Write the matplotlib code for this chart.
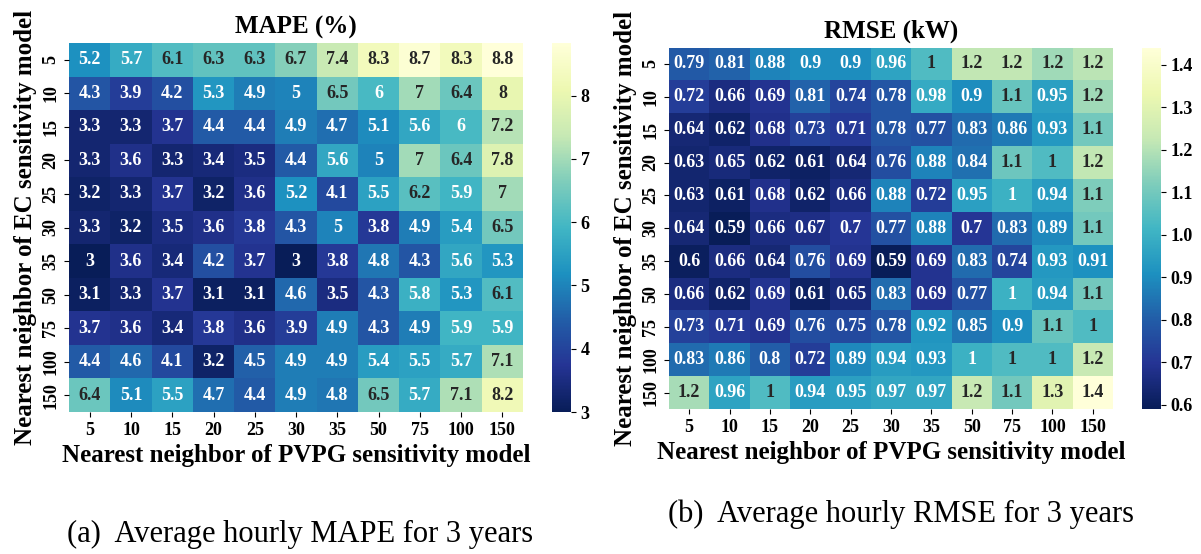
import numpy as np
import matplotlib
matplotlib.use("Agg")
import matplotlib.pyplot as plt
import seaborn as sns

# neighbour counts used for both sensitivity models
pvpg_neighbors = [5, 10, 15, 20, 25, 30, 35, 50, 75, 100, 150]
ec_neighbors = [5, 10, 15, 20, 25, 30, 35, 50, 75, 100, 150]

# average hourly MAPE (%), rows = EC neighbours, cols = PVPG neighbours
mape = [
    [5.2, 5.7, 6.1, 6.3, 6.3, 6.7, 7.4, 8.3, 8.7, 8.3, 8.83],
    [4.3, 3.9, 4.2, 5.3, 4.9, 5.0, 6.5, 6.0, 7.0, 6.4, 8.0],
    [3.3, 3.3, 3.7, 4.4, 4.4, 4.9, 4.7, 5.1, 5.6, 6.0, 7.2],
    [3.3, 3.6, 3.3, 3.4, 3.5, 4.4, 5.6, 5.0, 7.0, 6.4, 7.8],
    [3.2, 3.3, 3.7, 3.2, 3.6, 5.2, 4.1, 5.5, 6.2, 5.9, 7.0],
    [3.3, 3.2, 3.5, 3.6, 3.8, 4.3, 5.0, 3.8, 4.9, 5.4, 6.5],
    [3.0, 3.6, 3.4, 4.2, 3.7, 3.0, 3.8, 4.8, 4.3, 5.6, 5.3],
    [3.1, 3.3, 3.7, 3.1, 3.1, 4.6, 3.5, 4.3, 5.8, 5.3, 6.1],
    [3.7, 3.6, 3.4, 3.8, 3.6, 3.9, 4.9, 4.3, 4.9, 5.9, 5.9],
    [4.4, 4.6, 4.1, 3.2, 4.5, 4.9, 4.9, 5.4, 5.5, 5.7, 7.1],
    [6.4, 5.1, 5.5, 4.7, 4.4, 4.9, 4.8, 6.5, 5.7, 7.1, 8.2],
]

# average hourly RMSE (kW)
rmse = [
    [0.79, 0.81, 0.88, 0.90, 0.90, 0.96, 1.04, 1.22, 1.22, 1.17, 1.21],
    [0.72, 0.66, 0.69, 0.81, 0.74, 0.78, 0.98, 0.90, 1.08, 0.95, 1.17],
    [0.64, 0.62, 0.68, 0.73, 0.71, 0.78, 0.77, 0.83, 0.86, 0.93, 1.10],
    [0.63, 0.65, 0.62, 0.61, 0.64, 0.76, 0.88, 0.84, 1.09, 1.04, 1.22],
    [0.63, 0.61, 0.68, 0.62, 0.66, 0.88, 0.72, 0.95, 1.00, 0.94, 1.12],
    [0.64, 0.59, 0.66, 0.67, 0.70, 0.77, 0.88, 0.70, 0.83, 0.89, 1.10],
    [0.60, 0.66, 0.64, 0.76, 0.69, 0.59, 0.69, 0.83, 0.74, 0.93, 0.91],
    [0.66, 0.62, 0.69, 0.61, 0.65, 0.83, 0.69, 0.77, 1.00, 0.94, 1.10],
    [0.73, 0.71, 0.69, 0.76, 0.75, 0.78, 0.92, 0.85, 0.90, 1.08, 1.04],
    [0.83, 0.86, 0.80, 0.72, 0.89, 0.94, 0.93, 1.00, 1.04, 1.04, 1.23],
    [1.18, 0.96, 1.04, 0.94, 0.95, 0.97, 0.97, 1.23, 1.10, 1.30, 1.44],
]

plt.rcParams["font.family"] = ["Liberation Serif", "DejaVu Serif"]
plt.rcParams["font.weight"] = "bold"
plt.rcParams["axes.titleweight"] = "bold"
plt.rcParams["axes.labelweight"] = "bold"

fig = plt.figure(figsize=(12.01, 5.54), dpi=100)

panels = [
    # data, title, caption, heatmap rect, cbar rect, caption pos
    (mape, "MAPE (%)", "(a)  Average hourly MAPE for 3 years",
     [0.0575, 0.2563, 0.378, 0.666], [0.4596, 0.2563, 0.0158, 0.666], (0.25, 0.036)),
    (rmse, "RMSE (kW)", "(b)  Average hourly RMSE for 3 years",
     [0.557, 0.2617, 0.3697, 0.6525], [0.9509, 0.2617, 0.0158, 0.6525], (0.75, 0.072)),
]

for data, title, caption, rect, crect, cpos in panels:
    arr = np.array(data)
    ax = fig.add_axes(rect)
    cax = fig.add_axes(crect)
    sns.heatmap(
        arr,
        ax=ax,
        cbar_ax=cax,
        cmap="YlGnBu_r",
        annot=False,
        xticklabels=pvpg_neighbors,
        yticklabels=ec_neighbors,
    )
    # cell labels: white on the dark half of the map, dark on the light half
    lo, hi = arr.min(), arr.max()
    for i in range(arr.shape[0]):
        for j in range(arr.shape[1]):
            v = arr[i, j]
            col = "white" if (v - lo) / (hi - lo) < 0.52 else "#262626"
            ax.text(j + 0.5, i + 0.5, format(v, ".2g"), ha="center", va="center",
                    color=col, fontsize=13, fontweight="bold")
    ax.set_title(title, fontsize=18, fontweight="bold", pad=7)
    ax.set_xlabel("Nearest neighbor of PVPG sensitivity model", fontsize=18, labelpad=4)
    ax.set_ylabel("Nearest neighbor of EC sensitivity model", fontsize=18, labelpad=4)
    ax.tick_params(axis="x", labelsize=13, rotation=0)
    ax.tick_params(axis="y", labelsize=13)
    for lab in ax.get_yticklabels():
        lab.set_rotation(90)
        lab.set_va("center")
    cax.tick_params(labelsize=13)
    fig.text(cpos[0], cpos[1], caption, ha="center", va="center",
             fontsize=22, fontweight="normal")

fig.savefig("out.png", dpi=100)
